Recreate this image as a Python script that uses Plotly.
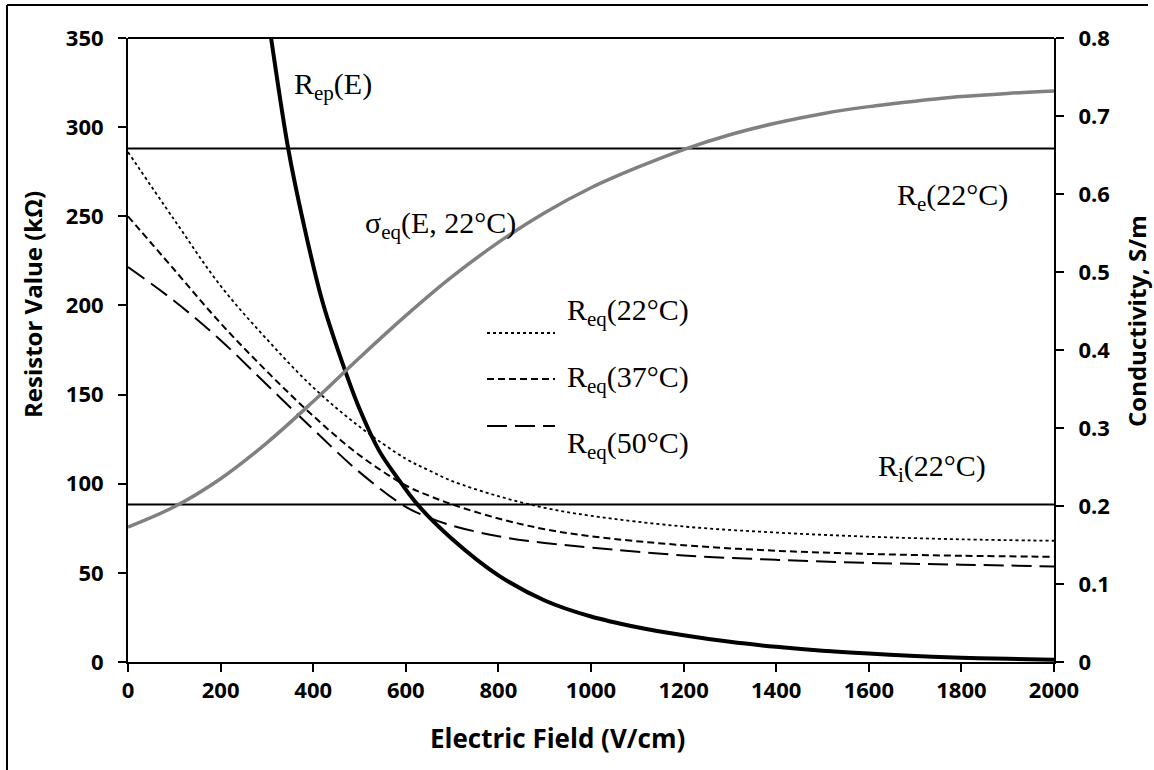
import plotly.graph_objects as go

# ---------------- data ----------------
E_rep = [295, 309, 346, 380, 419, 460, 500, 542, 580, 625, 700, 800, 900, 1000,
         1100, 1200, 1300, 1400, 1500, 1600, 1700, 1800, 1900, 2000]
R_ep = [375, 350, 288, 245, 203, 170, 142, 118.7, 104, 88.4, 69, 48.6, 34.5, 25.5,
        19.5, 15.0, 11.3, 8.5, 6.3, 4.7, 3.4, 2.4, 1.8, 1.3]

E_eq = [0, 100, 200, 300, 400, 500, 600, 650, 700, 800, 900, 1000, 1200, 1400, 1600, 1800, 2000]
R_eq22 = [286, 248, 211, 181, 154, 132, 114, 107.5, 101.5, 93, 86.5, 82, 76, 72.6, 70.3, 68.8, 68]
R_eq37 = [250, 220, 190, 163, 138, 116, 99, 93.3, 88.4, 80.5, 74.5, 70.5, 65.5, 62.4, 60.6, 59.6, 59]
R_eq50 = [221.5, 202.5, 180.5, 155.5, 130.5, 106.5, 87, 81, 76.5, 70.5, 66.8, 64.2, 59.8, 57.3, 55.6, 54.6, 53.6]

E_sig = [0, 100, 200, 300, 400, 500, 600, 700, 800, 900, 1000, 1100, 1200, 1300,
         1400, 1500, 1600, 1700, 1800, 1900, 2000]
sigma_eq = [0.173, 0.199, 0.235, 0.281, 0.334, 0.390, 0.444, 0.494, 0.538, 0.576, 0.608,
            0.634, 0.657, 0.676, 0.691, 0.703, 0.712, 0.719, 0.725, 0.729, 0.732]

E_span = [0, 2000]
R_e22 = 288
R_i22 = 88.4

x_ticks = list(range(0, 2001, 200))
y_ticks = list(range(0, 351, 50))
y2_ticks = [0, 0.1, 0.2, 0.3, 0.4, 0.5, 0.6, 0.7, 0.8]
y2_labels = ["0", "0.1", "0.2", "0.3", "0.4", "0.5", "0.6", "0.7", "0.8"]

# ---------------- layout geometry ----------------
W, H = 1154, 770
L, R, T, B = 128, 100, 38, 108
PW, PH = W - L - R, H - T - B


def px(x):
    return (x - L) / PW


def py(y):
    return (H - B - y) / PH


TICKFONT = dict(family="Open Sans", size=22, color="black", weight="bold")
SERIF = dict(family="Liberation Serif", size=30, color="black")

fig = go.Figure()

fig.add_trace(go.Scatter(x=E_span, y=[R_e22, R_e22], mode="lines",
                         line=dict(color="black", width=2), name="Re(22°C)"))
fig.add_trace(go.Scatter(x=E_span, y=[R_i22, R_i22], mode="lines",
                         line=dict(color="black", width=2), name="Ri(22°C)"))
fig.add_trace(go.Scatter(x=E_eq, y=R_eq22, mode="lines", line_shape="spline",
                         line=dict(color="black", width=1.8, dash="dot"), name="Req(22°C)"))
fig.add_trace(go.Scatter(x=E_eq, y=R_eq37, mode="lines", line_shape="spline",
                         line=dict(color="black", width=2, dash="7px,4px"), name="Req(37°C)"))
fig.add_trace(go.Scatter(x=E_eq, y=R_eq50, mode="lines", line_shape="spline",
                         line=dict(color="black", width=2, dash="20px,8px"), name="Req(50°C)"))
fig.add_trace(go.Scatter(x=E_sig, y=sigma_eq, mode="lines", line_shape="spline", yaxis="y2",
                         line=dict(color="#808080", width=3.5), name="σeq"))
fig.add_trace(go.Scatter(x=E_rep, y=R_ep, mode="lines", line_shape="spline",
                         line=dict(color="black", width=4), name="Rep(E)"))

fig.update_layout(
    width=W, height=H,
    margin=dict(l=L, r=R, t=T, b=B),
    paper_bgcolor="white", plot_bgcolor="white",
    showlegend=False,
    xaxis=dict(range=[0, 2000], tickvals=x_ticks, showgrid=False, zeroline=False,
               showline=True, linecolor="black", linewidth=2,
               ticks="outside", ticklen=8, tickwidth=2, tickcolor="black",
               tickfont=TICKFONT),
    yaxis=dict(range=[0, 350], tickvals=y_ticks, showgrid=False, zeroline=False,
               showline=True, linecolor="black", linewidth=2,
               ticks="outside", ticklen=8, tickwidth=2, tickcolor="black",
               tickfont=TICKFONT, ticklabelstandoff=10),
    yaxis2=dict(range=[0, 0.8], tickvals=y2_ticks, ticktext=y2_labels, overlaying="y",
                side="right", showgrid=False, zeroline=False,
                showline=True, linecolor="black", linewidth=2,
                ticks="outside", ticklen=8, tickwidth=2, tickcolor="black",
                tickfont=TICKFONT, ticklabelstandoff=10),
)

shapes = [
    # plot-area top edge
    dict(type="line", xref="paper", yref="paper", x0=0, x1=1, y0=1, y1=1,
         line=dict(color="black", width=2)),
    # outer frame (left and top)
    dict(type="line", xref="paper", yref="paper", x0=px(7), x1=px(7), y0=py(5), y1=py(770),
         line=dict(color="black", width=2)),
    dict(type="line", xref="paper", yref="paper", x0=px(7), x1=px(1148), y0=py(5), y1=py(5),
         line=dict(color="black", width=2)),
]
# legend samples
leg = [(py(333), "dot", 1.8), (py(379), "7px,4px", 2), (py(426), "20px,8px", 2)]
for yy, dash, w in leg:
    shapes.append(dict(type="line", xref="paper", yref="paper", x0=px(487), x1=px(555),
                       y0=yy, y1=yy, line=dict(color="black", width=w, dash=dash)))
fig.update_layout(shapes=shapes)

ann = []
ann.append(dict(text="R<sub>ep</sub>(E)", x=px(292), y=py(86), xanchor="left", yanchor="middle"))
ann.append(dict(text="σ<sub>eq</sub>(E, 22°C)", x=px(518), y=py(225), xanchor="right", yanchor="middle"))
ann.append(dict(text="R<sub>e</sub>(22°C)", x=px(1010), y=py(197), xanchor="right", yanchor="middle"))
ann.append(dict(text="R<sub>i</sub>(22°C)", x=px(988), y=py(468), xanchor="right", yanchor="middle"))
ann.append(dict(text="R<sub>eq</sub>(22°C)", x=px(565), y=py(312), xanchor="left", yanchor="middle"))
ann.append(dict(text="R<sub>eq</sub>(37°C)", x=px(565), y=py(379), xanchor="left", yanchor="middle"))
ann.append(dict(text="R<sub>eq</sub>(50°C)", x=px(565), y=py(445), xanchor="left", yanchor="middle"))
for a in ann:
    a.update(xref="paper", yref="paper", showarrow=False, font=SERIF)

ann.append(dict(text="Electric Field (V/cm)", x=px(557), y=py(738), xref="paper", yref="paper",
                showarrow=False, font=dict(family="Open Sans", size=26, color="black", weight="bold"),
                xanchor="center", yanchor="middle"))
ann.append(dict(text="Resistor Value (kΩ)", x=px(32), y=py(305), xref="paper", yref="paper",
                showarrow=False, font=dict(family="Open Sans", size=24, color="black", weight="bold"),
                textangle=-90, xanchor="center", yanchor="middle"))
ann.append(dict(text="Conductivity, S/m", x=px(1136), y=py(321), xref="paper", yref="paper",
                showarrow=False, font=dict(family="Open Sans", size=24, color="black", weight="bold"),
                textangle=-90, xanchor="center", yanchor="middle"))
fig.update_layout(annotations=ann)

fig.write_html("out.html")
